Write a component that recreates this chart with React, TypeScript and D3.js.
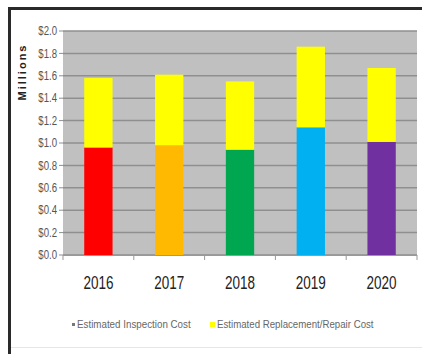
import React from "react";
import * as d3 from "d3";

const years = ["2016", "2017", "2018", "2019", "2020"];
const inspectionCost = [0.96, 0.98, 0.94, 1.14, 1.01];
const replacementCost = [0.62, 0.63, 0.61, 0.72, 0.66];
const inspectionColors = ["#FF0000", "#FFB900", "#00A650", "#00B0F0", "#7030A0"];
const replacementColor = "#FFFF00";
const yTicks = [0, 0.2, 0.4, 0.6, 0.8, 1.0, 1.2, 1.4, 1.6, 1.8, 2.0];
const legendLabels = ["Estimated Inspection Cost", "Estimated Replacement/Repair Cost"];
const yTitle = "Millions";

const W = 422;
const H = 357;
const plot = { left: 63, right: 417, top: 31, bottom: 255 };
const font = "'Liberation Sans', Arial, sans-serif";

export default function App() {
  const x = d3.scaleBand<string>().domain(years).range([plot.left, plot.right]).paddingInner(0.6).paddingOuter(0.3);
  const xOuter = d3.scaleBand<string>().domain(years).range([plot.left, plot.right]);
  const y = d3.scaleLinear().domain([0, 2.0]).range([plot.bottom, plot.top]);

  const boundaries = [...years.map((d) => xOuter(d) as number), plot.right];

  return (
    <svg width={W} height={H} style={{ position: "absolute", left: 0, top: 0, background: "#fff" }}>
      {/* frame */}
      <rect x={0} y={0} width={W} height={H} fill="#fff" />
      <line x1={8} x2={W} y1={8.5} y2={8.5} stroke="#2a2a2a" strokeWidth={3} />
      <line x1={9.5} x2={9.5} y1={7} y2={354} stroke="#2a2a2a" strokeWidth={3} />
      <line x1={11} x2={W} y1={347.5} y2={347.5} stroke="#e6e6e6" strokeWidth={1} />

      {/* plot background */}
      <rect x={plot.left} y={plot.top} width={plot.right - plot.left} height={plot.bottom - plot.top} fill="#C0C0C0" />
      {yTicks.map((t) => (
        <g key={t}>
          <line x1={plot.left} x2={plot.right} y1={y(t)} y2={y(t)} stroke="#8f8f8f" strokeWidth={1.5} />
          <line x1={plot.left - 4} x2={plot.left} y1={y(t)} y2={y(t)} stroke="#8f8f8f" strokeWidth={1} />
          <g transform={`translate(${plot.left - 6}, ${y(t)}) scale(0.8, 1)`}>
            <text dy="0.35em" textAnchor="end" fontFamily={font} fontSize={12} fill="#555">
              {"$" + d3.format(".1f")(t)}
            </text>
          </g>
        </g>
      ))}

      {/* bars */}
      {years.map((yr, i) => {
        const bx = x(yr) as number;
        const bw = x.bandwidth();
        const base = inspectionCost[i];
        const total = base + replacementCost[i];
        return (
          <g key={yr}>
            <rect x={bx} y={y(base)} width={bw} height={y(0) - y(base)} fill={inspectionColors[i]} />
            <rect x={bx} y={y(total)} width={bw} height={y(base) - y(total)} fill={replacementColor} />
          </g>
        );
      })}

      {/* x axis */}
      <line x1={plot.left} x2={plot.right} y1={plot.bottom + 0.5} y2={plot.bottom + 0.5} stroke="#999" strokeWidth={1} />
      {boundaries.map((b, i) => (
        <line key={i} x1={b} x2={b} y1={plot.bottom} y2={plot.bottom + 5} stroke="#999" strokeWidth={1} />
      ))}
      {years.map((yr) => (
        <g key={yr} transform={`translate(${(xOuter(yr) as number) + xOuter.bandwidth() / 2}, 289) scale(0.75, 1)`}>
          <text textAnchor="middle" fontFamily={font} fontSize={18} fill="#222">
            {yr}
          </text>
        </g>
      ))}

      {/* y title */}
      <text
        transform={`translate(26, 72) rotate(-90)`}
        textAnchor="middle"
        fontFamily={font}
        fontSize={11}
        fontWeight="bold"
        letterSpacing={2}
        fill="#222"
      >
        {yTitle}
      </text>

      {/* legend */}
      <rect x={72} y={323} width={3} height={3} fill="#777" />
      <g transform="translate(77, 328) scale(0.89, 1)">
        <text fontFamily={font} fontSize={11} fill="#666">
          {legendLabels[0]}
        </text>
      </g>
      <rect x={210} y={322} width={5} height={5} fill={replacementColor} />
      <g transform="translate(217, 328) scale(0.88, 1)">
        <text fontFamily={font} fontSize={11} fill="#666">
          {legendLabels[1]}
        </text>
      </g>
    </svg>
  );
}
